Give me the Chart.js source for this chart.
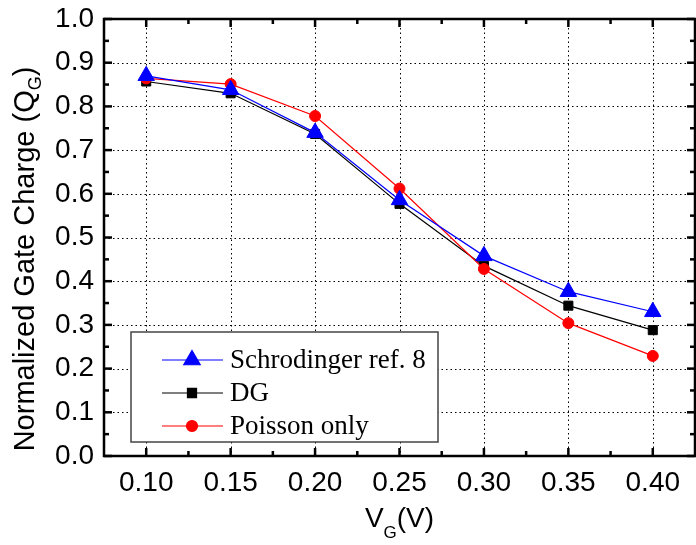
<!DOCTYPE html>
<html lang="en">
<head>
  <meta charset="UTF-8">
  <title>Normalized Gate Charge</title>
  <script src="https://cdn.jsdelivr.net/npm/chart.js"></script>
  <style>
    html, body {
      margin: 0;
      padding: 0;
      background: #fff;
    }
    canvas {
      display: block;
    }
  </style>
</head>
<body>

<canvas id="qgChart" width="696" height="545"></canvas>

<script>
// values
const vg = [0.10, 0.15, 0.20, 0.25, 0.30, 0.35, 0.40];
const schrodinger = [0.870, 0.838, 0.740, 0.586, 0.458, 0.376, 0.330];
const dg = [0.857, 0.830, 0.737, 0.577, 0.435, 0.344, 0.288];
const poisson = [0.864, 0.851, 0.778, 0.612, 0.428, 0.304, 0.229];

const xTicks = [0.10, 0.15, 0.20, 0.25, 0.30, 0.35, 0.40];
const yTicks = [0.0, 0.1, 0.2, 0.3, 0.4, 0.5, 0.6, 0.7, 0.8, 0.9, 1.0];

const sansFont = '"Liberation Sans", Arial, sans-serif';
const serifFont = '"Liberation Serif", "Times New Roman", serif';

function pts(ys) {
  return vg.map((x, i) => ({ x: x, y: ys[i] }));
}

function midpoints(arr) {
  const out = [];
  for (let i = 0; i < arr.length - 1; i++) out.push((arr[i] + arr[i + 1]) / 2);
  return out;
}

// dotted grid, frame with inward ticks on all four sides
const framePlugin = {
  id: 'frame',
  beforeDatasetsDraw(chart) {
    const { ctx, chartArea: a, scales } = chart;
    ctx.save();
    ctx.strokeStyle = '#000';
    ctx.lineWidth = 1;
    ctx.setLineDash([1.5, 3]);
    xTicks.forEach(v => {
      const x = Math.round(scales.x.getPixelForValue(v)) + 0.5;
      ctx.beginPath();
      ctx.moveTo(x, a.top);
      ctx.lineTo(x, a.bottom);
      ctx.stroke();
    });
    yTicks.slice(1, -1).forEach(v => {
      const y = Math.round(scales.y.getPixelForValue(v)) + 0.5;
      ctx.beginPath();
      ctx.moveTo(a.left, y);
      ctx.lineTo(a.right, y);
      ctx.stroke();
    });
    ctx.restore();
  },
  afterDraw(chart) {
    const { ctx, chartArea: a, scales } = chart;
    ctx.save();
    ctx.strokeStyle = '#000';
    ctx.lineWidth = 2.5;
    ctx.setLineDash([]);
    ctx.strokeRect(a.left, a.top, a.right - a.left, a.bottom - a.top);

    const tick = (x1, y1, x2, y2) => {
      ctx.beginPath();
      ctx.moveTo(x1, y1);
      ctx.lineTo(x2, y2);
      ctx.stroke();
    };
    const major = 8, minor = 5;
    xTicks.forEach(v => {
      const x = scales.x.getPixelForValue(v);
      tick(x, a.bottom, x, a.bottom - major);
      tick(x, a.top, x, a.top + major);
    });
    midpoints(xTicks).forEach(v => {
      const x = scales.x.getPixelForValue(v);
      tick(x, a.bottom, x, a.bottom - minor);
      tick(x, a.top, x, a.top + minor);
    });
    yTicks.forEach(v => {
      const y = scales.y.getPixelForValue(v);
      tick(a.left, y, a.left + major, y);
      tick(a.right, y, a.right - major, y);
    });
    midpoints(yTicks).forEach(v => {
      const y = scales.y.getPixelForValue(v);
      tick(a.left, y, a.left + minor, y);
      tick(a.right, y, a.right - minor, y);
    });

    // axis titles with subscripts
    ctx.fillStyle = '#000';
    ctx.textBaseline = 'alphabetic';

    // y title
    const yMain = 'Normalized Gate Charge (Q';
    ctx.font = '29px ' + sansFont;
    const w1 = ctx.measureText(yMain).width;
    const w3 = ctx.measureText(')').width;
    ctx.font = '18px ' + sansFont;
    const w2 = ctx.measureText('G').width;
    const total = w1 + w2 + w3;
    ctx.translate(34, 259);
    ctx.rotate(-Math.PI / 2);
    let x0 = -total / 2;
    ctx.font = '29px ' + sansFont;
    ctx.fillText(yMain, x0, 0);
    ctx.font = '18px ' + sansFont;
    ctx.fillText('G', x0 + w1, 7);
    ctx.font = '29px ' + sansFont;
    ctx.fillText(')', x0 + w1 + w2, 0);
    ctx.setTransform(1, 0, 0, 1, 0, 0);

    // x title
    ctx.font = '28px ' + sansFont;
    const v1 = ctx.measureText('V').width;
    const v3 = ctx.measureText('(V)').width;
    ctx.font = '17px ' + sansFont;
    const v2 = ctx.measureText('G').width;
    const cx = (a.left + a.right) / 2;
    x0 = cx - (v1 + v2 + v3) / 2;
    ctx.font = '28px ' + sansFont;
    ctx.fillText('V', x0, 527);
    ctx.font = '17px ' + sansFont;
    ctx.fillText('G', x0 + v1, 538);
    ctx.font = '28px ' + sansFont;
    ctx.fillText('(V)', x0 + v1 + v2, 527);
    ctx.restore();
  }
};

// boxed legend inside the plot, lower left
const boxLegend = {
  id: 'boxLegend',
  afterDatasetsDraw(chart) {
    const ctx = chart.ctx;
    const box = { x: 131, y: 332, w: 307, h: 110 };
    ctx.save();
    ctx.fillStyle = '#fff';
    ctx.fillRect(box.x, box.y, box.w, box.h);
    ctx.strokeStyle = '#444';
    ctx.lineWidth = 1.5;
    ctx.strokeRect(box.x, box.y, box.w, box.h);

    ctx.font = '27px ' + serifFont;
    ctx.textBaseline = 'middle';
    chart.data.datasets.forEach((ds, i) => {
      const y = 360 + i * 33;
      ctx.strokeStyle = ds.borderColor;
      ctx.fillStyle = ds.backgroundColor;
      ctx.lineWidth = 1.2;
      ctx.beginPath();
      ctx.moveTo(162, y);
      ctx.lineTo(223, y);
      ctx.stroke();
      Chart.helpers.drawPoint(ctx, {
        pointStyle: ds.pointStyle,
        radius: ds.pointRadius,
        rotation: 0,
        borderWidth: 1
      }, 192, y);
      ctx.fillStyle = '#000';
      ctx.fillText(ds.label, 230, y + 1);
    });
    ctx.restore();
  }
};

const ctx = document.getElementById('qgChart').getContext('2d');

new Chart(ctx, {
  type: 'line',
  data: {
    datasets: [
      {
        label: 'Schrodinger ref. 8',
        data: pts(schrodinger),
        borderColor: '#0000ff',
        backgroundColor: '#0000ff',
        pointStyle: 'triangle',
        pointRadius: 9.5,
        borderWidth: 1.2,
        pointBorderWidth: 1,
        order: 0
      },
      {
        label: 'DG',
        data: pts(dg),
        borderColor: '#000000',
        backgroundColor: '#000000',
        pointStyle: 'rect',
        pointRadius: 6.4,
        borderWidth: 1.2,
        pointBorderWidth: 1,
        order: 2
      },
      {
        label: 'Poisson only',
        data: pts(poisson),
        borderColor: '#ff0000',
        backgroundColor: '#ff0000',
        pointStyle: 'circle',
        pointRadius: 5.5,
        borderWidth: 1.2,
        pointBorderWidth: 1,
        order: 1
      }
    ]
  },
  options: {
    responsive: false,
    animation: false,
    devicePixelRatio: 1,
    layout: {
      autoPadding: false,
      padding: { top: 19, right: 1, left: 0, bottom: 0 }
    },
    plugins: {
      legend: { display: false },
      tooltip: { enabled: false }
    },
    scales: {
      x: {
        type: 'linear',
        min: 0.075,
        max: 0.425,
        afterBuildTicks: s => { s.ticks = xTicks.map(v => ({ value: v })); },
        afterFit: s => {
          s.height = 89;
          s.paddingLeft = 0;
          s.paddingRight = 0;
        },
        grid: { display: false, drawTicks: false },
        border: { display: false },
        ticks: {
          callback: v => v.toFixed(2),
          color: '#000',
          font: { family: sansFont, size: 28 },
          padding: 10,
          maxRotation: 0,
          autoSkip: false
        }
      },
      y: {
        min: 0,
        max: 1,
        afterBuildTicks: s => { s.ticks = yTicks.map(v => ({ value: v })); },
        afterFit: s => {
          s.width = 104;
          s.paddingTop = 0;
          s.paddingBottom = 0;
        },
        grid: { display: false, drawTicks: false },
        border: { display: false },
        ticks: {
          callback: v => v.toFixed(1),
          color: '#000',
          font: { family: sansFont, size: 28 },
          padding: 10,
          autoSkip: false
        }
      }
    }
  },
  plugins: [framePlugin, boxLegend]
});
</script>

</body>
</html>
